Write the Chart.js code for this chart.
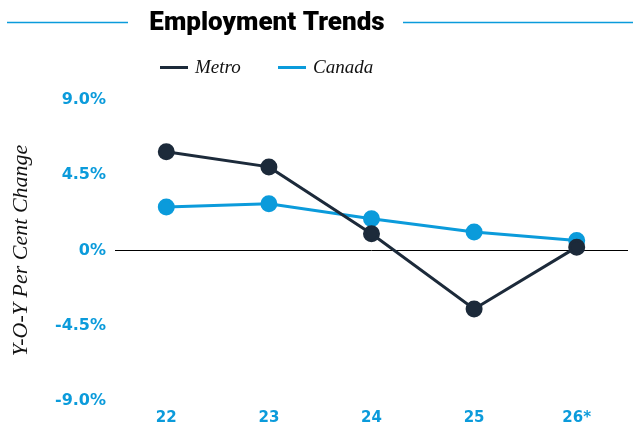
<!DOCTYPE html>
<html>
<head>
<meta charset="utf-8">
<script src="https://cdn.jsdelivr.net/npm/chart.js@4"></script>
<style>
  html, body { margin: 0; padding: 0; background: #fff; }
  #wrap { width: 633px; height: 427px; }
</style>
</head>
<body>
<div id="wrap"><canvas id="trends"></canvas></div>
<script>
const years = ["22", "23", "24", "25", "26*"];
const metro = [5.9, 5.0, 1.0, -3.5, 0.2];
const canada = [2.6, 2.8, 1.9, 1.1, 0.6];
const yTicks = [-9, -4.5, 0, 4.5, 9];

const BLUE = "#0b9bdb";
const NAVY = "#1c2a3a";
const chartTitle = "Employment Trends";

// title, side rules and legend drawn at fixed spots above the plot
const headerPlugin = {
  id: "header",
  afterDraw(chart) {
    const c = chart.ctx;
    c.save();
    c.font = "900 26px Roboto, sans-serif";
    c.fillStyle = "#000";
    c.textAlign = "center";
    c.textBaseline = "middle";
    c.fillText(chartTitle, 267, 23);

    c.strokeStyle = BLUE;
    c.lineWidth = 1.5;
    c.beginPath();
    c.moveTo(7, 22.5); c.lineTo(128, 22.5);
    c.moveTo(403, 22.5); c.lineTo(633, 22.5);
    c.stroke();

    const items = [
      { ds: chart.data.datasets[0], x: 160 },
      { ds: chart.data.datasets[1], x: 278 },
    ];
    c.font = "italic 19px 'Liberation Serif', serif";
    c.textAlign = "left";
    items.forEach((it) => {
      c.fillStyle = it.ds.borderColor;
      c.fillRect(it.x, 66, 28, 3);
      c.fillStyle = "#111";
      c.fillText(it.ds.label, it.x + 35, 68);
    });
    c.restore();
  },
};

new Chart(document.getElementById("trends"), {
  type: "line",
  data: {
    labels: years,
    datasets: [
      {
        label: "Metro",
        data: metro,
        borderColor: NAVY,
        backgroundColor: NAVY,
        borderWidth: 3,
        pointRadius: 7,
        pointHoverRadius: 7,
        tension: 0,
      },
      {
        label: "Canada",
        data: canada,
        borderColor: BLUE,
        backgroundColor: BLUE,
        borderWidth: 3,
        pointRadius: 7,
        pointHoverRadius: 7,
        tension: 0,
      },
    ],
  },
  options: {
    responsive: true,
    maintainAspectRatio: false,
    animation: false,
    layout: { autoPadding: false, padding: { top: 100, right: 5, bottom: 0, left: 0 } },
    plugins: {
      legend: { display: false },
      title: { display: false },
      tooltip: { enabled: false },
    },
    scales: {
      x: {
        offset: true,
        grid: { display: false, drawTicks: false },
        border: { display: false },
        afterFit: (scale) => {
          scale.height = 26;
        },
        ticks: {
          color: BLUE,
          padding: 8,
          font: { family: "'DejaVu Sans', sans-serif", size: 15, weight: "bold" },
        },
      },
      y: {
        min: -9,
        max: 9,
        afterBuildTicks: (scale) => {
          scale.ticks = yTicks.map((v) => ({ value: v }));
        },
        afterFit: (scale) => {
          scale.width = 115;
        },
        border: { display: false },
        grid: {
          drawTicks: false,
          color: (ctx) => (ctx.tick && ctx.tick.value === 0 ? "#000" : "transparent"),
          lineWidth: 1,
        },
        ticks: {
          color: BLUE,
          padding: 9,
          font: { family: "'DejaVu Sans', sans-serif", size: 16, weight: "bold" },
          callback: (v) => (v === 0 ? "0%" : v.toFixed(1) + "%"),
        },
        title: {
          display: true,
          text: "Y-O-Y Per Cent Change",
          color: "#111",
          padding: { top: 8, bottom: 0 },
          font: { family: "'Liberation Serif', serif", size: 22, style: "italic" },
        },
      },
    },
  },
  plugins: [headerPlugin],
});
</script>
</body>
</html>
